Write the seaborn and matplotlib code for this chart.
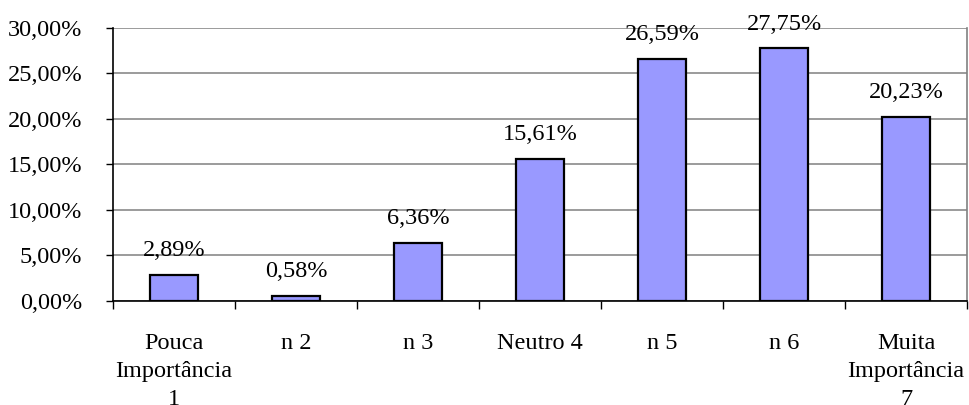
import matplotlib
matplotlib.use("Agg")
import matplotlib.pyplot as plt
from matplotlib.ticker import FuncFormatter, FixedLocator
import seaborn as sns
import pandas as pd

categories = ["Pouca\nImportância\n1", "n 2", "n 3", "Neutro 4", "n 5", "n 6", "Muita\nImportância\n7"]
values = [2.89, 0.58, 6.36, 15.61, 26.59, 27.75, 20.23]
y_ticks = [0, 5, 10, 15, 20, 25, 30]

sns.set_theme(style="white")
plt.rcParams["font.family"] = ["Liberation Serif", "DejaVu Serif"]

df = pd.DataFrame({"cat": categories, "val": values})

fig = plt.figure(figsize=(9.7, 4.05), dpi=100)
ax = fig.add_axes([0.1165, 0.257, 0.8805, 0.674])

sns.barplot(data=df, x="cat", y="val", color="#9999FF", saturation=1,
            edgecolor="black", linewidth=1.6, width=0.4, ax=ax, zorder=3)

def pct(v, pos=None):
    return f"{v:.2f}".replace(".", ",") + "%"

ax.set_ylim(0, 30)
ax.set_xlim(-0.5, len(categories) - 0.5)
ax.yaxis.set_major_locator(FixedLocator(y_ticks))
ax.yaxis.set_major_formatter(FuncFormatter(pct))
ax.grid(axis="y", color="#808080", linewidth=1.1, zorder=0)
ax.set_axisbelow(True)

# Category boundary ticks on the x axis
ax.set_xticks([i - 0.5 for i in range(len(categories) + 1)], minor=True)
ax.tick_params(axis="x", which="minor", length=6, width=1, color="black", direction="out", bottom=True)
ax.tick_params(axis="x", which="major", length=0, pad=23, labelsize=17.5, colors="black")
ax.tick_params(axis="y", which="major", length=5, width=1, color="black", direction="out",
               pad=17, labelsize=17.5, labelcolor="black", left=True)
for lbl in ax.get_xticklabels():
    lbl.set_linespacing(1.45)

ax.set_xlabel("")
ax.set_ylabel("")

for side in ["left", "bottom"]:
    ax.spines[side].set_color("black")
    ax.spines[side].set_linewidth(1.2)
ax.spines["top"].set_visible(False)
ax.spines["right"].set_color("#808080")
ax.spines["right"].set_linewidth(1.2)

for i, v in enumerate(values):
    ax.annotate(pct(v), (i, v), xytext=(0, 10), textcoords="offset points",
                ha="center", va="bottom", fontsize=17.5, color="black", zorder=5,
                annotation_clip=False)

fig.savefig("out.png", dpi=100)
